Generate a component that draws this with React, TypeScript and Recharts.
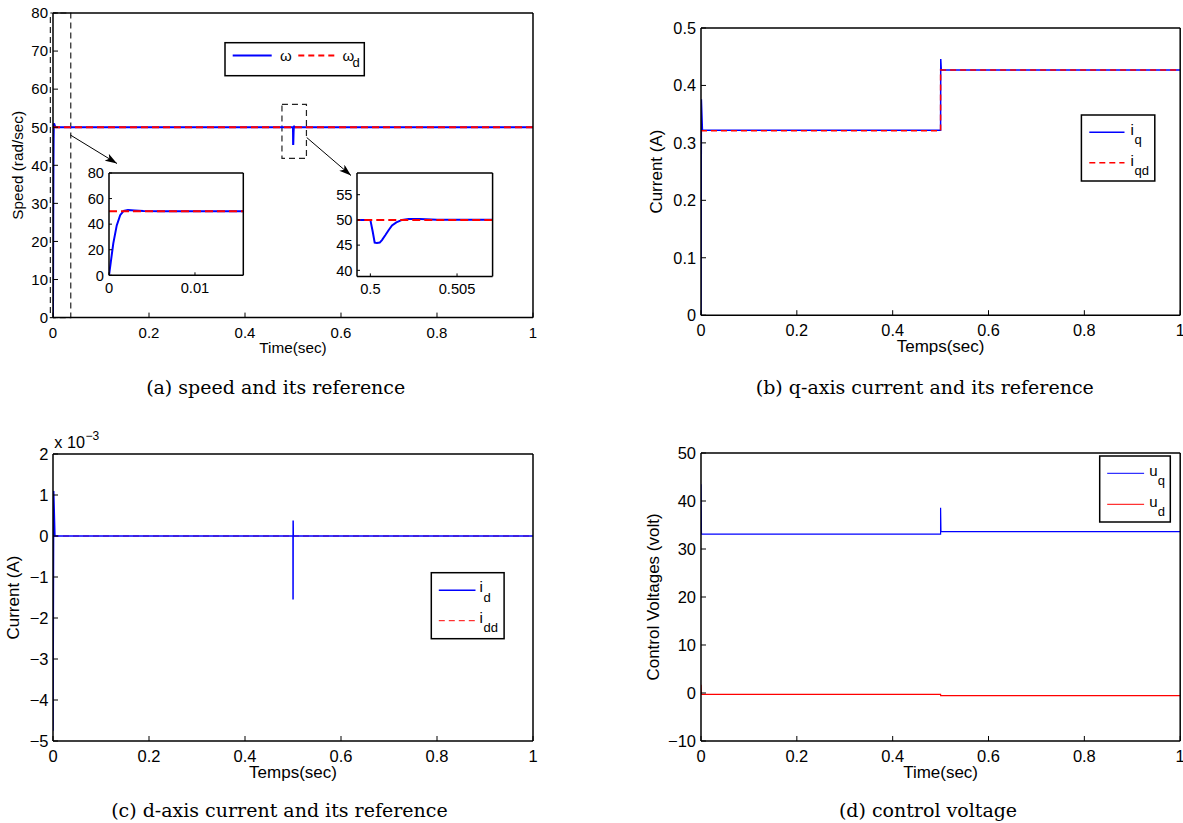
import React from "react";
import { LineChart, Line, XAxis, YAxis, ReferenceArea } from "recharts";

const FONT = "'Liberation Sans', Arial, Helvetica, sans-serif";
const SERIF = "'DejaVu Serif', serif";
const BLUE = "#0000ff";
const RED = "#ff0000";

// (a) speed and its reference
const omegaTime = [
  0, 0.0002, 0.0005, 0.0009, 0.0013, 0.0017, 0.0022, 0.003, 0.004, 0.006,
  0.5, 0.500135, 0.50025, 0.50038, 0.50054, 0.50067, 0.50087, 0.50106,
  0.50125, 0.5015, 0.50183, 0.50221, 0.50288, 0.50385, 1,
];
const omegaValues = [
  0, 10, 25, 39, 47, 50.3, 51, 50.7, 50.3, 50,
  50, 47.7, 45.5, 45.4, 45.5, 46.0, 47.0, 48.0,
  48.9, 49.5, 50.0, 50.2, 50.2, 50.05, 50,
];
const omegaRefTime = [0, 1];
const omegaRefValues = [50, 50];
const speedTicks = [0, 10, 20, 30, 40, 50, 60, 70, 80];

// (b) q-axis current
const iqTime = [0, 0.0008, 0.003, 0.5, 0.5003, 0.5015, 1];
const iqValues = [0, 0.376, 0.322, 0.322, 0.446, 0.427, 0.427];
const iqdTime = [0, 0.5, 0.5, 1];
const iqdValues = [0.321, 0.321, 0.427, 0.427];
const iqTicks = [0, 0.1, 0.2, 0.3, 0.4, 0.5];

// (c) d-axis current, x 10^-3 A
const idTime = [0, 0.0015, 0.004, 0.5, 0.5001, 0.5003, 0.5006, 1];
const idValues = [-4.75, 1.1, 0, 0, -1.55, 0.38, 0, 0];
const iddTime = [0, 1];
const iddValues = [0, 0];
const idTicks = [-5, -4, -3, -2, -1, 0, 1, 2];

// (d) control voltages
const uqTime = [0, 0.001, 0.5, 0.5, 0.5008, 1];
const uqValues = [43.5, 33.1, 33.1, 38.6, 33.6, 33.6];
const udTime = [0, 0.001, 0.5, 0.5002, 1];
const udValues = [1.7, -0.3, -0.3, -0.55, -0.55];
const voltTicks = [-10, 0, 10, 20, 30, 40, 50];

const timeTicks = [0, 0.2, 0.4, 0.6, 0.8, 1];

// zoom insets of (a)
const startZoomTicksX = [0, 0.01];
const startZoomTicksY = [0, 20, 40, 60, 80];
const loadZoomTicksX = [0.5, 0.505];
const loadZoomTicksY = [40, 45, 50, 55];

const zip = (ts: number[], vs: number[]) =>
  ts.map((t, i) => ({ t, v: vs[i] }));

const omega = zip(omegaTime, omegaValues);
const omegaRef = zip(omegaRefTime, omegaRefValues);
const iq = zip(iqTime, iqValues);
const iqd = zip(iqdTime, iqdValues);
const id = zip(idTime, idValues);
const idd = zip(iddTime, iddValues);
const uq = zip(uqTime, uqValues);
const ud = zip(udTime, udValues);

const fmt = (v: number) => (v < 0 ? "\u2212" + Math.abs(v) : String(v));

type Box = { left: number; top: number; width: number; height: number };

type Frame = {
  box: Box;
  yw: number;
  xh: number;
  xDomain: [number, number];
  xTicks: number[];
  yDomain: [number, number];
  yTicks: number[];
  tickLen: number;
  xGap: number;
  yGap: number;
  tickSize: number;
  labelSize?: number;
  xLabel?: string;
  yLabel?: string;
  yLabelOffset?: number;
};

const MT = 8;
const MR = 8;

const axisLine = { stroke: "#000", strokeWidth: 1.5 };
const tickLine = { stroke: "#000", strokeWidth: 1 };

// tick text drawn by hand so that the font size is surely applied
const makeTick = (size: number) => (p: any) => {
  const dy =
    p.verticalAnchor === "start"
      ? "0.71em"
      : p.verticalAnchor === "end"
      ? "0"
      : "0.355em";
  return (
    <text
      x={p.x}
      y={p.y}
      dy={dy}
      textAnchor={p.textAnchor}
      fontSize={size}
      fontFamily={FONT}
      fill="#000"
    >
      {fmt(p.payload.value)}
    </text>
  );
};

function frameAxes(f: Frame) {
  const tick = makeTick(f.tickSize);
  const labelStyle = { fontSize: f.labelSize, fill: "#000", fontFamily: FONT };
  return [
    <XAxis
      key="xb"
      xAxisId="b"
      type="number"
      dataKey="t"
      domain={f.xDomain}
      ticks={f.xTicks}
      interval={0}
      allowDataOverflow
      height={f.xh}
      tickSize={-f.tickLen}
      tickMargin={f.tickLen + f.xGap}
      tick={tick}
      axisLine={axisLine}
      tickLine={tickLine}
      label={
        f.xLabel
          ? {
              value: f.xLabel,
              position: "insideTop",
              offset: 25,
              ...labelStyle,
            }
          : undefined
      }
    />,
    <XAxis
      key="xt"
      xAxisId="t"
      orientation="top"
      type="number"
      domain={f.xDomain}
      ticks={f.xTicks}
      interval={0}
      allowDataOverflow
      height={1}
      tickSize={-f.tickLen}
      tick={false}
      axisLine={axisLine}
      tickLine={tickLine}
    />,
    <YAxis
      key="yl"
      yAxisId="l"
      type="number"
      domain={f.yDomain}
      ticks={f.yTicks}
      interval={0}
      allowDataOverflow
      width={f.yw}
      tickSize={-f.tickLen}
      tickMargin={f.tickLen + f.yGap}
      tick={tick}
      axisLine={axisLine}
      tickLine={tickLine}
      label={
        f.yLabel
          ? {
              value: f.yLabel,
              angle: -90,
              position: "insideLeft",
              offset: f.yLabelOffset,
              textAnchor: "middle",
              ...labelStyle,
            }
          : undefined
      }
    />,
    <YAxis
      key="yr"
      yAxisId="r"
      orientation="right"
      type="number"
      domain={f.yDomain}
      ticks={f.yTicks}
      interval={0}
      allowDataOverflow
      width={1}
      tickSize={-f.tickLen}
      tick={false}
      axisLine={axisLine}
      tickLine={tickLine}
    />,
  ];
}

function Panel({ f, children }: { f: Frame; children: React.ReactNode }) {
  const w = f.box.width + f.yw + MR + 1;
  const h = f.box.height + MT + 1 + f.xh;
  return (
    <div
      style={{
        position: "absolute",
        left: f.box.left - f.yw,
        top: f.box.top - MT - 1,
        width: w,
        height: h,
      }}
    >
      <LineChart
        width={w}
        height={h}
        margin={{ top: MT, right: MR, left: 0, bottom: 0 }}
      >
        {frameAxes(f)}
        {children}
      </LineChart>
    </div>
  );
}

const series = (
  data: { t: number; v: number }[],
  stroke: string,
  width: number,
  dash?: string
) => (
  <Line
    xAxisId="b"
    yAxisId="l"
    data={data}
    dataKey="v"
    type="linear"
    stroke={stroke}
    strokeWidth={width}
    strokeDasharray={dash}
    dot={false}
    activeDot={false}
    isAnimationActive={false}
  />
);

const frameA: Frame = {
  box: { left: 53.3, top: 12.7, width: 480, height: 304.6 },
  yw: 60,
  xh: 50,
  xDomain: [0, 1],
  xTicks: timeTicks,
  yDomain: [0, 80],
  yTicks: speedTicks,
  tickLen: 5,
  xGap: 9.4,
  yGap: 5,
  tickSize: 15,
  labelSize: 15.3,
  xLabel: "Time(sec)",
  yLabel: "Speed (rad/sec)",
  yLabelOffset: 24.4,
};

const frameB: Frame = {
  box: { left: 700.5, top: 28.3, width: 479.2, height: 287.2 },
  yw: 60,
  xh: 50,
  xDomain: [0, 1],
  xTicks: timeTicks,
  yDomain: [0, 0.5],
  yTicks: iqTicks,
  tickLen: 5,
  xGap: 9.4,
  yGap: 5,
  tickSize: 16.3,
  labelSize: 17,
  xLabel: "Temps(sec)",
  yLabel: "Current (A)",
  yLabelOffset: 15,
};

const frameC: Frame = {
  box: { left: 53.3, top: 453.7, width: 480, height: 287 },
  yw: 60,
  xh: 50,
  xDomain: [0, 1],
  xTicks: timeTicks,
  yDomain: [-5, 2],
  yTicks: idTicks,
  tickLen: 5,
  xGap: 9.4,
  yGap: 4.5,
  tickSize: 16.5,
  labelSize: 17,
  xLabel: "Temps(sec)",
  yLabel: "Current (A)",
  yLabelOffset: 20.3,
};

const frameD: Frame = {
  box: { left: 700.5, top: 452.7, width: 479.2, height: 288 },
  yw: 60,
  xh: 50,
  xDomain: [0, 1],
  xTicks: timeTicks,
  yDomain: [-10, 50],
  yTicks: voltTicks,
  tickLen: 5,
  xGap: 9.4,
  yGap: 5,
  tickSize: 16.5,
  labelSize: 17,
  xLabel: "Time(sec)",
  yLabel: "Control Voltages (volt)",
  yLabelOffset: 11.5,
};

const frameZoomStart: Frame = {
  box: { left: 109, top: 172.7, width: 134.3, height: 102.3 },
  yw: 32,
  xh: 26,
  xDomain: [0, 0.01562],
  xTicks: startZoomTicksX,
  yDomain: [0, 80],
  yTicks: startZoomTicksY,
  tickLen: 3,
  xGap: 7.7,
  yGap: 5,
  tickSize: 14.7,
};

const frameZoomLoad: Frame = {
  box: { left: 356.7, top: 173.3, width: 135.6, height: 103.4 },
  yw: 32,
  xh: 26,
  xDomain: [0.49923, 0.50705],
  xTicks: loadZoomTicksX,
  yDomain: [38.8, 59.3],
  yTicks: loadZoomTicksY,
  tickLen: 3,
  xGap: 6.8,
  yGap: 4.5,
  tickSize: 14.7,
};

function LegendEntry({
  x1,
  x2,
  y,
  color,
  width,
  dash,
  name,
  sub,
  nameX,
  subX,
  baseline,
  subBaseline,
  nameSize = 15,
  subSize = 13,
}: {
  x1: number;
  x2: number;
  y: number;
  color: string;
  width: number;
  dash?: string;
  name: string;
  sub: string;
  nameX: number;
  subX: number;
  baseline: number;
  subBaseline: number;
  nameSize?: number;
  subSize?: number;
}) {
  return (
    <g>
      <line
        x1={x1}
        x2={x2}
        y1={y}
        y2={y}
        stroke={color}
        strokeWidth={width}
        strokeDasharray={dash}
      />
      <text x={nameX} y={baseline} fontSize={nameSize} fontFamily={FONT}>
        {name}
      </text>
      {sub && (
        <text x={subX} y={subBaseline} fontSize={subSize} fontFamily={FONT}>
          {sub}
        </text>
      )}
    </g>
  );
}

export default function App() {
  return (
    <div
      style={{
        position: "absolute",
        left: 0,
        top: 0,
        width: 1183,
        height: 823,
        background: "#fff",
        overflow: "hidden",
      }}
    >
      {/* (a) */}
      <Panel f={frameA}>
        <ReferenceArea
          xAxisId="b"
          yAxisId="l"
          x1={-0.0055}
          x2={0.037}
          y1={0}
          y2={80}
          fill="none"
          stroke="#222"
          strokeWidth={1.2}
          strokeDasharray="6 4"
          ifOverflow="visible"
        />
        <ReferenceArea
          xAxisId="b"
          yAxisId="l"
          x1={0.477}
          x2={0.528}
          y1={41.8}
          y2={56}
          fill="none"
          stroke="#222"
          strokeWidth={1.2}
          strokeDasharray="6 4"
          ifOverflow="visible"
        />
        {series(omega, BLUE, 2)}
        {series(omegaRef, RED, 2, "7 4")}
      </Panel>

      <Panel f={frameZoomStart}>
        {series(omega, BLUE, 2)}
        {series(omegaRef, RED, 2, "8 4")}
      </Panel>

      <Panel f={frameZoomLoad}>
        {series(omega, BLUE, 2)}
        {series(omegaRef, RED, 2, "8 4")}
      </Panel>

      {/* (b) */}
      <Panel f={frameB}>
        {series(iq, BLUE, 1.5)}
        {series(iqd, RED, 1.5, "6 4")}
      </Panel>

      {/* (c) */}
      <Panel f={frameC}>
        {series(idd, RED, 1, "6 4")}
        {series(id, BLUE, 1.5)}
      </Panel>

      {/* (d) */}
      <Panel f={frameD}>
        {series(uq, BLUE, 1.2)}
        {series(ud, RED, 1.2)}
      </Panel>

      <svg
        width={1183}
        height={823}
        style={{ position: "absolute", left: 0, top: 0, pointerEvents: "none" }}
      >
        <defs>
          <marker
            id="head"
            viewBox="0 0 12 8"
            refX="12"
            refY="4"
            markerWidth="12"
            markerHeight="8"
            markerUnits="userSpaceOnUse"
            orient="auto"
          >
            <path d="M0,0 L12,4 L0,8 L3,4 z" fill="#000" />
          </marker>
        </defs>

        {/* zoom arrows */}
        <line
          x1={70.4}
          y1={135}
          x2={117}
          y2={163.5}
          stroke="#000"
          strokeWidth={1}
          markerEnd="url(#head)"
        />
        <line
          x1={306.7}
          y1={137.5}
          x2={351}
          y2={175.5}
          stroke="#000"
          strokeWidth={1}
          markerEnd="url(#head)"
        />

        {/* legend (a) */}
        <rect
          x={225}
          y={42.7}
          width={139.3}
          height={33}
          fill="#fff"
          stroke="#000"
          strokeWidth={1.5}
        />
        <LegendEntry
          x1={232.7}
          x2={271.7}
          y={55.5}
          color={BLUE}
          width={2}
          name="ω"
          sub=""
          nameX={280}
          subX={0}
          baseline={60.5}
          subBaseline={0}
        />
        <LegendEntry
          x1={298.3}
          x2={337.3}
          y={55.5}
          color={RED}
          width={2}
          dash="6 4"
          name="ω"
          sub="d"
          nameX={342.5}
          subX={352.5}
          baseline={60.5}
          subBaseline={66.5}
        />

        {/* legend (b) */}
        <rect
          x={1081.4}
          y={115}
          width={73.4}
          height={66}
          fill="#fff"
          stroke="#000"
          strokeWidth={1.5}
        />
        <LegendEntry
          x1={1089.3}
          x2={1124.5}
          y={132.3}
          color={BLUE}
          width={1.5}
          name="i"
          sub="q"
          nameX={1130.5}
          subX={1134.5}
          baseline={135}
          subBaseline={143.5}
        />
        <LegendEntry
          x1={1089.3}
          x2={1124.5}
          y={162.7}
          color={RED}
          width={1.5}
          dash="6 4"
          name="i"
          sub="qd"
          nameX={1130.5}
          subX={1134.5}
          baseline={166}
          subBaseline={175}
        />

        {/* legend (c) */}
        <rect
          x={431.3}
          y={572.7}
          width={72.8}
          height={66}
          fill="#fff"
          stroke="#000"
          strokeWidth={1.5}
        />
        <LegendEntry
          x1={438.8}
          x2={475.5}
          y={590.3}
          color={BLUE}
          width={1.5}
          name="i"
          sub="d"
          nameX={479.5}
          subX={483.5}
          baseline={592.3}
          subBaseline={602}
        />
        <LegendEntry
          x1={438.8}
          x2={475.5}
          y={620.7}
          color={RED}
          width={1}
          dash="6 4"
          name="i"
          sub="dd"
          nameX={479.5}
          subX={483.5}
          baseline={623.3}
          subBaseline={632}
        />

        {/* legend (d) */}
        <rect
          x={1099.7}
          y={456}
          width={70.6}
          height={66}
          fill="#fff"
          stroke="#000"
          strokeWidth={1.5}
        />
        <LegendEntry
          x1={1107.2}
          x2={1144.1}
          y={473.3}
          color={BLUE}
          width={1}
          name="u"
          sub="q"
          nameX={1149.3}
          subX={1157.8}
          baseline={475.7}
          subBaseline={484.5}
        />
        <LegendEntry
          x1={1107.2}
          x2={1144.1}
          y={504.3}
          color={RED}
          width={1}
          name="u"
          sub="d"
          nameX={1149.3}
          subX={1157.8}
          baseline={506.7}
          subBaseline={515.5}
        />

        {/* exponent of (c) */}
        <text x={54.3} y={448.3} fontSize={16.2} fontFamily={FONT}>
          x 10
        </text>
        <text x={85.5} y={440} fontSize={12} fontFamily={FONT}>
          {"\u22123"}
        </text>

        {/* captions */}
        <text x={275.7} y={393.5} fontSize={19} fontFamily={SERIF} textAnchor="middle">
          (a) speed and its reference
        </text>
        <text x={924.8} y={393.5} fontSize={19} fontFamily={SERIF} textAnchor="middle">
          (b) q-axis current and its reference
        </text>
        <text x={279.4} y={816.5} fontSize={19} fontFamily={SERIF} textAnchor="middle">
          (c) d-axis current and its reference
        </text>
        <text x={928} y={816.5} fontSize={19} fontFamily={SERIF} textAnchor="middle">
          (d) control voltage
        </text>
      </svg>
    </div>
  );
}
